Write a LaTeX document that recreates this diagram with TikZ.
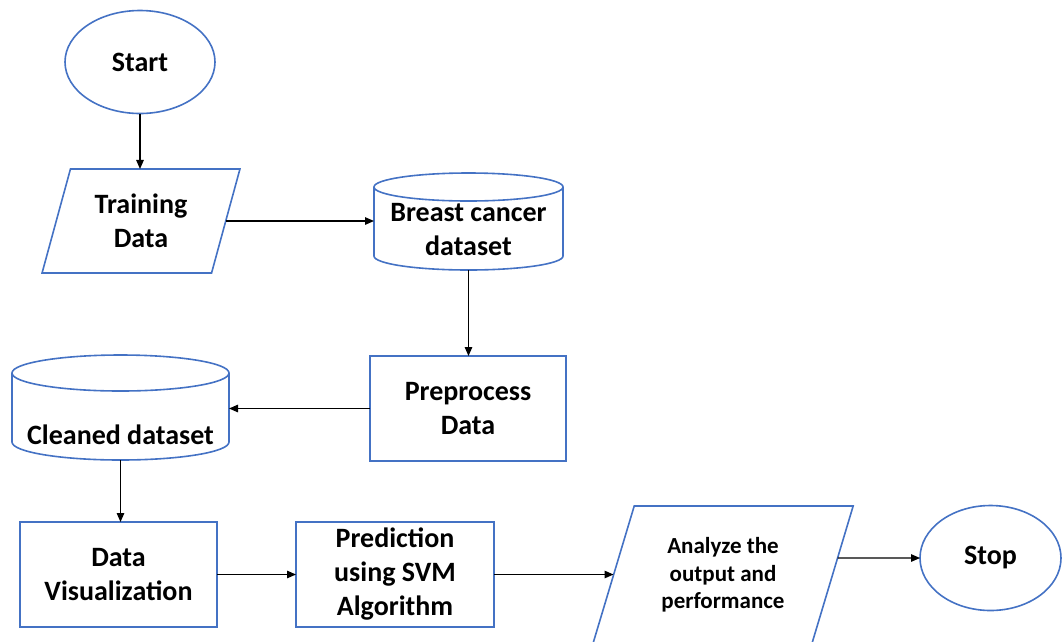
\documentclass[tikz,border=0pt]{standalone}
\usepackage{fontspec}
\setmainfont{Carlito}
\usetikzlibrary{shapes.geometric,arrows.meta,calc}
\definecolor{flowblue}{HTML}{4472C4}

\begin{document}
\begin{tikzpicture}[x=1pt,y=-1pt,
  outline/.style={draw=flowblue, line width=1.6pt},
  txt/.style={font=\bfseries\fontsize{28}{34}\selectfont, align=center, text=black},
  smalltxt/.style={font=\bfseries\fontsize{23}{27.5}\selectfont, align=center, text=black},
  flow/.style={draw=black, line width=1.3pt, -{Triangle[length=9pt,width=7.5pt]}},
  terminal/.style={outline, ellipse, inner sep=0pt, outer sep=0pt},
  process/.style={outline, rectangle, inner sep=0pt, outer sep=0pt},
  io/.style={outline, trapezium, trapezium stretches=true, inner sep=0pt, outer sep=0pt},
  body/.style={rectangle, inner sep=0pt, outer sep=0pt},
]
\useasboundingbox (0,0) rectangle (1062,641);

% terminals
\node[terminal, txt, minimum width=150pt, minimum height=103pt] (start) at (140,62) {Start};
\node[terminal, txt, minimum width=141pt, minimum height=105pt] (stop) at (990.5,558) {Stop};

% input / output
\node[io, txt, trapezium left angle=70.9, trapezium right angle=109.1,
      minimum width=198pt, minimum height=104pt] (train) at (141,221) {Training\\Data};
\node[io, smalltxt, trapezium left angle=69, trapezium right angle=111,
      minimum width=261pt, minimum height=138pt] (anal) at (723,575) {Analyze the\\output and\\performance};

% processes
\node[process, txt, minimum width=196pt, minimum height=105pt] (prep) at (468,408.5) {Preprocess\\Data};
\node[process, txt, minimum width=197pt, minimum height=105pt] (vis) at (118.5,574.5) {Data\\Visualization};
\node[process, txt, minimum width=198pt, minimum height=105pt] (pred) at (395,574.5) {Prediction\\using SVM\\Algorithm};

% databases (cylinders drawn around their body boxes)
\node[body, minimum width=189pt, minimum height=97pt] (bcd) at (468.5,221.5) {};
\node[txt] (bcdtext) at (468.5,230) {Breast cancer\\dataset};
\draw[outline] ([yshift=-14pt]bcd.north west) -- ([yshift=14pt]bcd.south west)
  arc[start angle=180, end angle=360, x radius=94.5pt, y radius=14pt]
  -- ([yshift=-14pt]bcd.north east)
  arc[start angle=0, end angle=180, x radius=94.5pt, y radius=14pt]
  arc[start angle=180, end angle=360, x radius=94.5pt, y radius=14pt];

\node[body, minimum width=217pt, minimum height=105pt] (clean) at (120.5,407.5) {};
\node[txt] (cleantext) at (120.5,434.5) {Cleaned dataset};
\draw[outline] ([yshift=-18pt]clean.north west) -- ([yshift=18pt]clean.south west)
  arc[start angle=180, end angle=360, x radius=108.5pt, y radius=18pt]
  -- ([yshift=-18pt]clean.north east)
  arc[start angle=0, end angle=180, x radius=108.5pt, y radius=18pt]
  arc[start angle=180, end angle=360, x radius=108.5pt, y radius=18pt];

% connectors
\coordinate (aout) at (intersection of anal.top right corner--anal.bottom right corner and stop.west--stop.center);
\draw[flow] (start.south) -- (start.south |- train.north);
\draw[flow] (train.east) -- (train.east -| bcd.west);
\draw[flow] (bcd.south) -- (bcd.south |- prep.north);
\draw[flow] (prep.west) -- (prep.west -| clean.east);
\draw[flow] (clean.south) -- (clean.south |- vis.north);
\draw[flow] (vis.east) -- (pred.west);
\draw[flow] (pred.east) -- (pred.east -| anal.west);
\draw[flow] (aout) -- (stop.west);
\end{tikzpicture}
\end{document}
